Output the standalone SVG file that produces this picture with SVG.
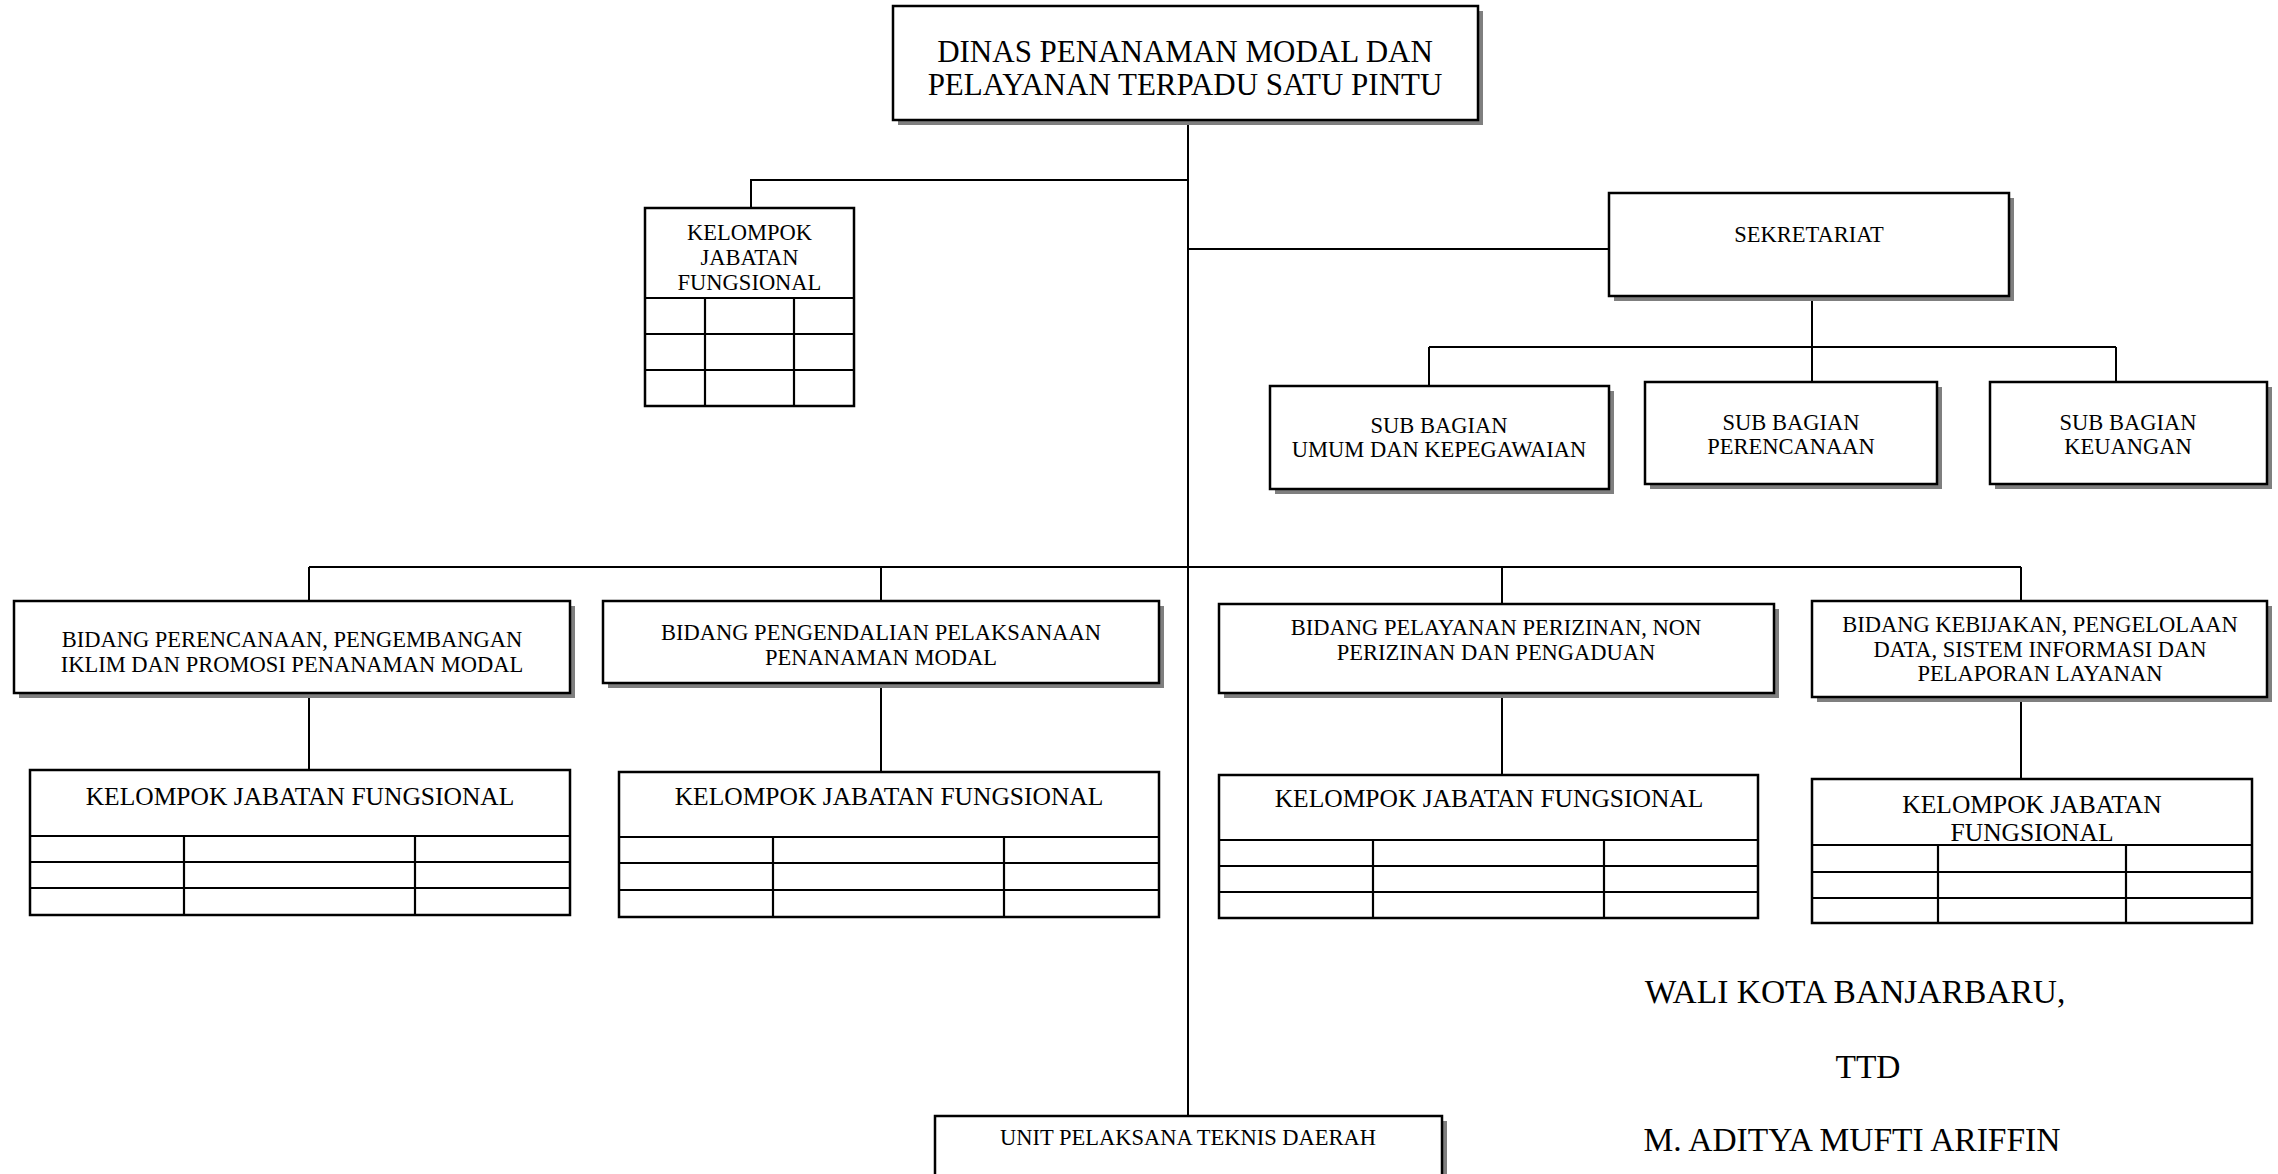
<svg xmlns="http://www.w3.org/2000/svg" width="2278" height="1174" viewBox="0 0 2278 1174">
<style>
.box{fill:#fff;stroke:#000;stroke-width:2.5}
.sh{fill:#7f7f7f}
.ln{fill:none;stroke:#000;stroke-width:2}
.grid{fill:none;stroke:#000;stroke-width:2.2}
text{font-family:"Liberation Serif","Times New Roman",serif;fill:#000;text-anchor:middle}
.t1{font-size:31px}
.s{font-size:22.5px}
.m{font-size:25.5px}
.l{font-size:33.5px}
</style>
<rect width="2278" height="1174" fill="#fff"/>
<g id="connectors">
<path class="ln" d="M1188,120 V1116"/>
<path class="ln" d="M1188,180 H751 V208"/>
<path class="ln" d="M1188,249 H1609"/>
<path class="ln" d="M1812,301 V347 M1429,347 H2116 M1429,347 V386 M1812,347 V382 M2116,347 V382"/>
<path class="ln" d="M309,567 H2021 M309,567 V601 M881,567 V601 M1502,567 V604 M2021,567 V601"/>
<path class="ln" d="M309,698 V770 M881,688 V772 M1502,698 V775 M2021,702 V779"/>
</g>
<g id="dinas">
<rect class="sh" x="898" y="11" width="585" height="114"/>
<rect class="box" x="893" y="6" width="585" height="114"/>
<text class="t1" x="1185" y="62">DINAS PENANAMAN MODAL DAN</text>
<text class="t1" x="1185" y="95">PELAYANAN TERPADU SATU PINTU</text>
</g>
<g id="kjf-top">
<rect class="box" x="645" y="208" width="209" height="198"/>
<path class="grid" d="M645,298 H854 M645,334 H854 M645,370 H854 M705,298 V406 M794,298 V406"/>
<text class="s" x="749.5" y="240">KELOMPOK</text>
<text class="s" x="749.5" y="265">JABATAN</text>
<text class="s" x="749.5" y="290">FUNGSIONAL</text>
</g>
<g id="sekretariat">
<rect class="sh" x="1614" y="198" width="400" height="103"/>
<rect class="box" x="1609" y="193" width="400" height="103"/>
<text class="s" x="1809" y="242">SEKRETARIAT</text>
</g>
<g id="sub-umum">
<rect class="sh" x="1275" y="391" width="339" height="103"/>
<rect class="box" x="1270" y="386" width="339" height="103"/>
<text class="s" x="1439" y="433">SUB BAGIAN</text>
<text class="s" x="1439" y="457">UMUM DAN KEPEGAWAIAN</text>
</g>
<g id="sub-perencanaan">
<rect class="sh" x="1650" y="387" width="292" height="102"/>
<rect class="box" x="1645" y="382" width="292" height="102"/>
<text class="s" x="1791" y="430">SUB BAGIAN</text>
<text class="s" x="1791" y="454">PERENCANAAN</text>
</g>
<g id="sub-keuangan">
<rect class="sh" x="1995" y="387" width="277" height="102"/>
<rect class="box" x="1990" y="382" width="277" height="102"/>
<text class="s" x="2128" y="430">SUB BAGIAN</text>
<text class="s" x="2128" y="454">KEUANGAN</text>
</g>
<g id="bidang-1">
<rect class="sh" x="19" y="606" width="556" height="92"/>
<rect class="box" x="14" y="601" width="556" height="92"/>
<text class="s" x="292" y="647">BIDANG PERENCANAAN, PENGEMBANGAN</text>
<text class="s" x="292" y="672">IKLIM DAN PROMOSI PENANAMAN MODAL</text>
</g>
<g id="bidang-2">
<rect class="sh" x="608" y="606" width="556" height="82"/>
<rect class="box" x="603" y="601" width="556" height="82"/>
<text class="s" x="881" y="640">BIDANG PENGENDALIAN PELAKSANAAN</text>
<text class="s" x="881" y="665">PENANAMAN MODAL</text>
</g>
<g id="bidang-3">
<rect class="sh" x="1224" y="609" width="555" height="89"/>
<rect class="box" x="1219" y="604" width="555" height="89"/>
<text class="s" x="1496" y="635">BIDANG PELAYANAN PERIZINAN, NON</text>
<text class="s" x="1496" y="660">PERIZINAN DAN PENGADUAN</text>
</g>
<g id="bidang-4">
<rect class="sh" x="1817" y="606" width="455" height="96"/>
<rect class="box" x="1812" y="601" width="455" height="96"/>
<text class="s" x="2040" y="632">BIDANG KEBIJAKAN, PENGELOLAAN</text>
<text class="s" x="2040" y="657">DATA, SISTEM INFORMASI DAN</text>
<text class="s" x="2040" y="681">PELAPORAN LAYANAN</text>
</g>
<g id="kjf-1">
<rect class="box" x="30" y="770" width="540" height="145"/>
<path class="grid" d="M30,836 H570 M30,862 H570 M30,888 H570 M184,836 V915 M415,836 V915"/>
<text class="m" x="300" y="805">KELOMPOK JABATAN FUNGSIONAL</text>
</g>
<g id="kjf-2">
<rect class="box" x="619" y="772" width="540" height="145"/>
<path class="grid" d="M619,837 H1159 M619,863 H1159 M619,890 H1159 M773,837 V917 M1004,837 V917"/>
<text class="m" x="889" y="805">KELOMPOK JABATAN FUNGSIONAL</text>
</g>
<g id="kjf-3">
<rect class="box" x="1219" y="775" width="539" height="143"/>
<path class="grid" d="M1219,840 H1758 M1219,866 H1758 M1219,892 H1758 M1373,840 V918 M1604,840 V918"/>
<text class="m" x="1489" y="807">KELOMPOK JABATAN FUNGSIONAL</text>
</g>
<g id="kjf-4">
<rect class="box" x="1812" y="779" width="440" height="144"/>
<path class="grid" d="M1812,845 H2252 M1812,872 H2252 M1812,898 H2252 M1938,845 V923 M2126,845 V923"/>
<text class="m" x="2032" y="813">KELOMPOK JABATAN</text>
<text class="m" x="2032" y="841">FUNGSIONAL</text>
</g>
<g id="upt">
<rect class="sh" x="940" y="1121" width="507" height="80"/>
<rect class="box" x="935" y="1116" width="507" height="80"/>
<text class="s" x="1188" y="1145">UNIT PELAKSANA TEKNIS DAERAH</text>
</g>
<g id="signature">
<text class="l" x="1855" y="1003">WALI KOTA BANJARBARU,</text>
<text class="l" x="1868" y="1078">TTD</text>
<text class="l" x="1852" y="1151">M. ADITYA MUFTI ARIFFIN</text>
</g>
</svg>
